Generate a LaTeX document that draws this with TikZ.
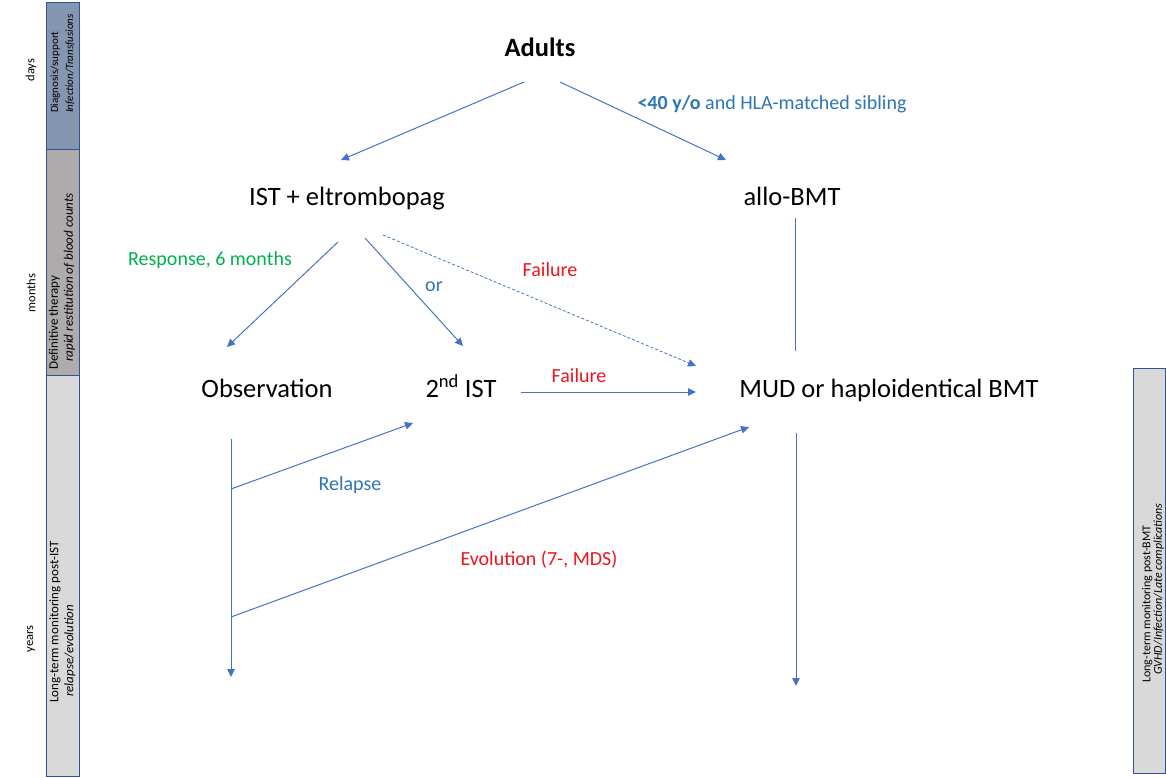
\documentclass[tikz,border=0pt]{standalone}
\usepackage{fontspec}
\setmainfont{Carlito}
\usepackage{tikz}
\usetikzlibrary{arrows.meta}
\definecolor{edgeColor}{rgb}{0.27,0.45,0.77}
\definecolor{blueText}{rgb}{0.18,0.46,0.71}
\definecolor{greenText}{rgb}{0,0.69,0.31}
\definecolor{redText}{rgb}{0.93,0.08,0.12}
\definecolor{daysFill}{rgb}{0.52,0.59,0.69}
\definecolor{monthsFill}{rgb}{0.68,0.67,0.67}
\definecolor{yearsFill}{rgb}{0.85,0.85,0.85}
\definecolor{barBorder}{rgb}{0.18,0.33,0.59}

\begin{document}
\begin{tikzpicture}[x=1pt,y=-1pt]

          \tikzstyle{mainNode} = [inner sep=0pt, anchor=base, font=\fontsize{26.5}{30}\selectfont];
          \tikzstyle{labelNode} = [inner sep=0pt, anchor=base, font=\fontsize{20}{24}\selectfont];
          \tikzstyle{barText} = [rotate=90, anchor=west, align=left, inner sep=0pt, font=\fontsize{13}{15}\selectfont];
          \tikzstyle{timeText} = [rotate=90, inner sep=0pt, font=\fontsize{12.5}{14}\selectfont];
          \tikzstyle{barBox} = [draw=barBorder, line width=1pt];

          \tikzstyle{normalEdge} = [edgeColor, line width=1pt, -{Triangle[length=8pt,width=7.5pt]}];
          \tikzstyle{dashedEdge} = [normalEdge, line width=0.8pt, dash pattern=on 3pt off 2pt];
          \tikzstyle{plainEdge} = [edgeColor, line width=1pt];

          \useasboundingbox (0,0) rectangle (1166,778);

          % time bars
          \filldraw[barBox, fill=daysFill] (46,3) rectangle (79,150);
          \filldraw[barBox, fill=monthsFill] (46,150) rectangle (79,375);
          \filldraw[barBox, fill=yearsFill] (46,375) rectangle (79,776);
          \filldraw[barBox, fill=yearsFill] (1133,368) rectangle (1165.5,773);

          \node[barText, font=\fontsize{11}{15}\selectfont] (diag) at (62.5,113) {Diagnosis/support\\\textit{Infection/Transfusions}};
          \node[barText] (defin) at (62,370) {Definitive therapy\\\hspace*{8pt}\textit{rapid restitution of blood counts}};
          \node[barText] (monIST) at (62.5,703) {Long-term monitoring post-IST\\\hspace*{6pt}\textit{relapse/evolution}};
          \node[barText, font=\fontsize{12}{11.5}\selectfont] (monBMT) at (1153,683) {Long-term monitoring post-BMT\\\hspace*{8pt}\textit{GVHD/Infection/Late complications}};

          \node[timeText] (days) at (31,70) {days};
          \node[timeText] (months) at (31,293) {months};
          \node[timeText] (years) at (31,639) {years};

          % main steps
          \node[mainNode, font=\bfseries\fontsize{26.5}{30}\selectfont] (adults) at (540,57) {Adults};
          \node[mainNode] (ist) at (347,205) {IST + eltrombopag};
          \node[mainNode] (allo) at (792,205) {allo-BMT};
          \node[mainNode] (obs) at (267,397) {Observation};
          \node[mainNode] (ist2) at (461,397) {2\textsuperscript{nd} IST};
          \node[mainNode] (mud) at (889,397) {MUD or haploidentical BMT};

          \coordinate (relapseFork) at (231,489);
          \coordinate (evolutionFork) at (231,617);
          \coordinate (obsEnd) at (231,677);
          \coordinate (mudEnd) at (796,686);

          % labels
          \node[labelNode, text=blueText] (sibling) at (772,110) {\textbf{<40 y/o} and HLA-matched sibling};
          \node[labelNode, text=greenText] (response) at (210,265) {Response, 6 months};
          \node[labelNode, text=blueText] (orLabel) at (434,291) {or};
          \node[labelNode, text=redText] (failA) at (550,276) {Failure};
          \node[labelNode, text=redText] (failB) at (579,382) {Failure};
          \node[labelNode, text=blueText] (relapse) at (350,490) {Relapse};
          \node[labelNode, text=redText] (evolution) at (539,565) {Evolution (7-, MDS)};

          \draw[normalEdge] ([shift={(-16,25)}]adults.base) -- ([shift={(-6,-45)}]ist.base);
          \draw[normalEdge] ([shift={(20,25)}]adults.base) -- ([shift={(-66,-45)}]allo.base);
          \draw[plainEdge] ([shift={(3,13)}]allo.base) -- ([shift={(-94,-46)}]mud.base);
          \draw[normalEdge] ([shift={(-9,37)}]ist.base) -- ([shift={(-40,-50)}]obs.base);
          \draw[normalEdge] ([shift={(18,33)}]ist.base) -- ([shift={(2,-51)}]ist2.base);
          \draw[dashedEdge] ([shift={(36,30)}]ist.base) -- ([shift={(-193,-31)}]mud.base);
          \draw[normalEdge] ([shift={(60,-5)}]ist2.base) -- ([shift={(-193,-5)}]mud.base);
          \draw[normalEdge] ([shift={(-36,42)}]obs.base) -- (obsEnd);
          \draw[normalEdge] (relapseFork) -- ([shift={(-48,26)}]ist2.base);
          \draw[normalEdge] (evolutionFork) -- ([shift={(-140,30)}]mud.base);
          \draw[normalEdge] ([shift={(-93,36)}]mud.base) -- (mudEnd);
        \end{tikzpicture}
\end{document}
